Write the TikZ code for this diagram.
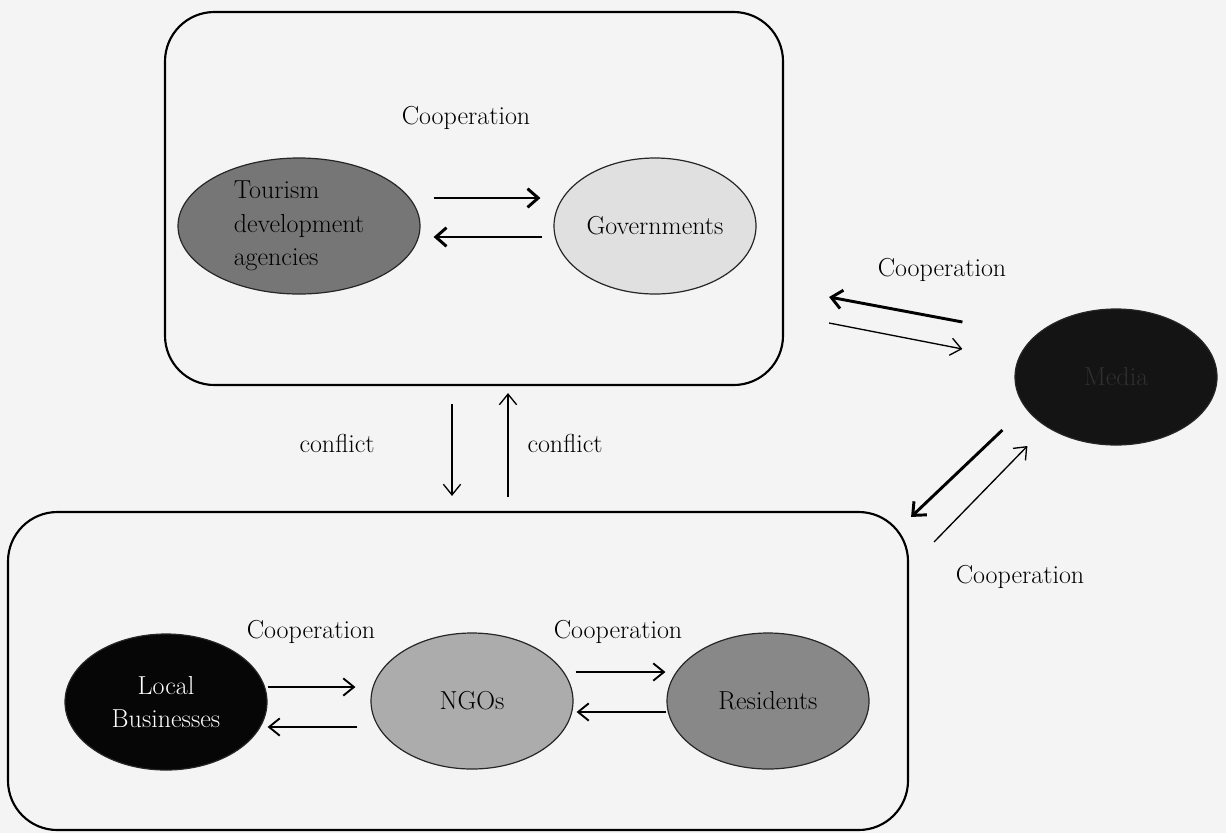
\documentclass[tikz,border=0pt]{standalone}
\usepackage{tikz}
\usetikzlibrary{shapes.geometric,arrows.meta,calc}

\definecolor{bgcol}{RGB}{244,244,244}
\definecolor{tourfill}{RGB}{118,118,118}
\definecolor{govfill}{RGB}{224,224,224}
\definecolor{mediafill}{RGB}{20,20,20}
\definecolor{mediatext}{RGB}{48,48,48}
\definecolor{localfill}{RGB}{6,6,6}
\definecolor{ngofill}{RGB}{172,172,172}
\definecolor{resfill}{RGB}{136,136,136}

\tikzset{
  actor/.style={ellipse, draw=black!85, line width=0.9pt, inner sep=0pt,
    minimum width=151.5pt, minimum height=102pt, font=\fontsize{19.5}{25}\selectfont},
  groupbox/.style={draw, line width=1.6pt, rounded corners=37pt, inner sep=0pt},
  lbl/.style={font=\fontsize{19.5}{23}\selectfont, inner sep=0pt},
  thickarr/.style={line width=2.2pt, -{Straight Barb[length=8pt,width=14pt]}},
  medarr/.style={line width=1.4pt, -{Straight Barb[length=8pt,width=13pt]}},
  thinarr/.style={line width=1pt, -{Straight Barb[length=8pt,width=13pt]}},
}

\begin{document}
\begin{tikzpicture}[x=0.75pt,y=0.75pt,yscale=-1]
\fill[bgcol] (0,0) rectangle (1226,833);
\useasboundingbox (0,0) rectangle (1226,833);

%Group box: agencies and governments
\node[groupbox, minimum width=463.5pt, minimum height=279.75pt] (govbox) at (474,198.5) {};
%Group box: local actors
\node[groupbox, minimum width=675pt, minimum height=238.5pt] (localbox) at (458,671) {};

%Ellipses
\node[actor, fill=tourfill, minimum width=181.5pt, align=left] (tourism) at (299,226) {Tourism\\development\\agencies};
\node[actor, fill=govfill] (gov) at (655,226) {Governments};
\node[actor, fill=mediafill, text=mediatext] (media) at (1116,377) {Media};
\node[actor, fill=localfill, text=white, align=center] (local) at (166,702) {Local\\Businesses};
\node[actor, fill=ngofill] (ngo) at (472,701) {NGOs};
\node[actor, fill=resfill] (res) at (768,701) {Residents};

%Labels
\node[lbl] (coopgov) at (466,118) {Cooperation};
\node[lbl] (coopmediatop) at (942,270) {Cooperation};
\node[lbl] (coopmediabot) at (1020,577) {Cooperation};
\node[lbl] (cooplocal) at (311,632) {Cooperation};
\node[lbl] (coopres) at (618,632) {Cooperation};
\node[lbl] (conflictdown) at (337,443) {conflict};
\node[lbl] (conflictup) at (565,443) {conflict};

%Arrows inside the upper box
\draw[thickarr] ($(tourism.east)+(13,-28)$) -- ($(gov.west)+(-13,-28)$);
\draw[thickarr] ($(gov.west)+(-11,11)$) -- ($(tourism.east)+(13,11)$);

%Arrows inside the lower box
\draw[medarr] ($(local.east)+(0,-15)$) -- ($(ngo.west)+(-15,-14)$);
\draw[medarr] ($(ngo.west)+(-13,26)$) -- ($(local.east)+(0,25)$);
\draw[medarr] ($(ngo.east)+(2,-29)$) -- ($(res.west)+(-1,-29)$);
\draw[medarr] ($(res.west)+(0,11)$) -- ($(ngo.east)+(3,11)$);

%Conflict arrows between the boxes
\draw[thinarr] ($(govbox.south)+(-22,18)$) -- ($(localbox.north)+(-6,-15)$);
\draw[thinarr] ($(localbox.north)+(50,-14)$) -- ($(govbox.south)+(34,7)$);

%Arrows to and from the media
\draw[thickarr] ($(media.west)+(-52,-55)$) -- ($(govbox.east)+(45,98.5)$);
\draw[thinarr] ($(govbox.east)+(45,124.5)$) -- ($(media.west)+(-52,-28)$);
\draw[thickarr] ($(media.west)+(-12,53)$) -- ($(localbox.north east)+(2,6)$);
\draw[thinarr] ($(localbox.north east)+(25,31)$) -- ($(media.west)+(13,69)$);

\end{tikzpicture}
\end{document}
